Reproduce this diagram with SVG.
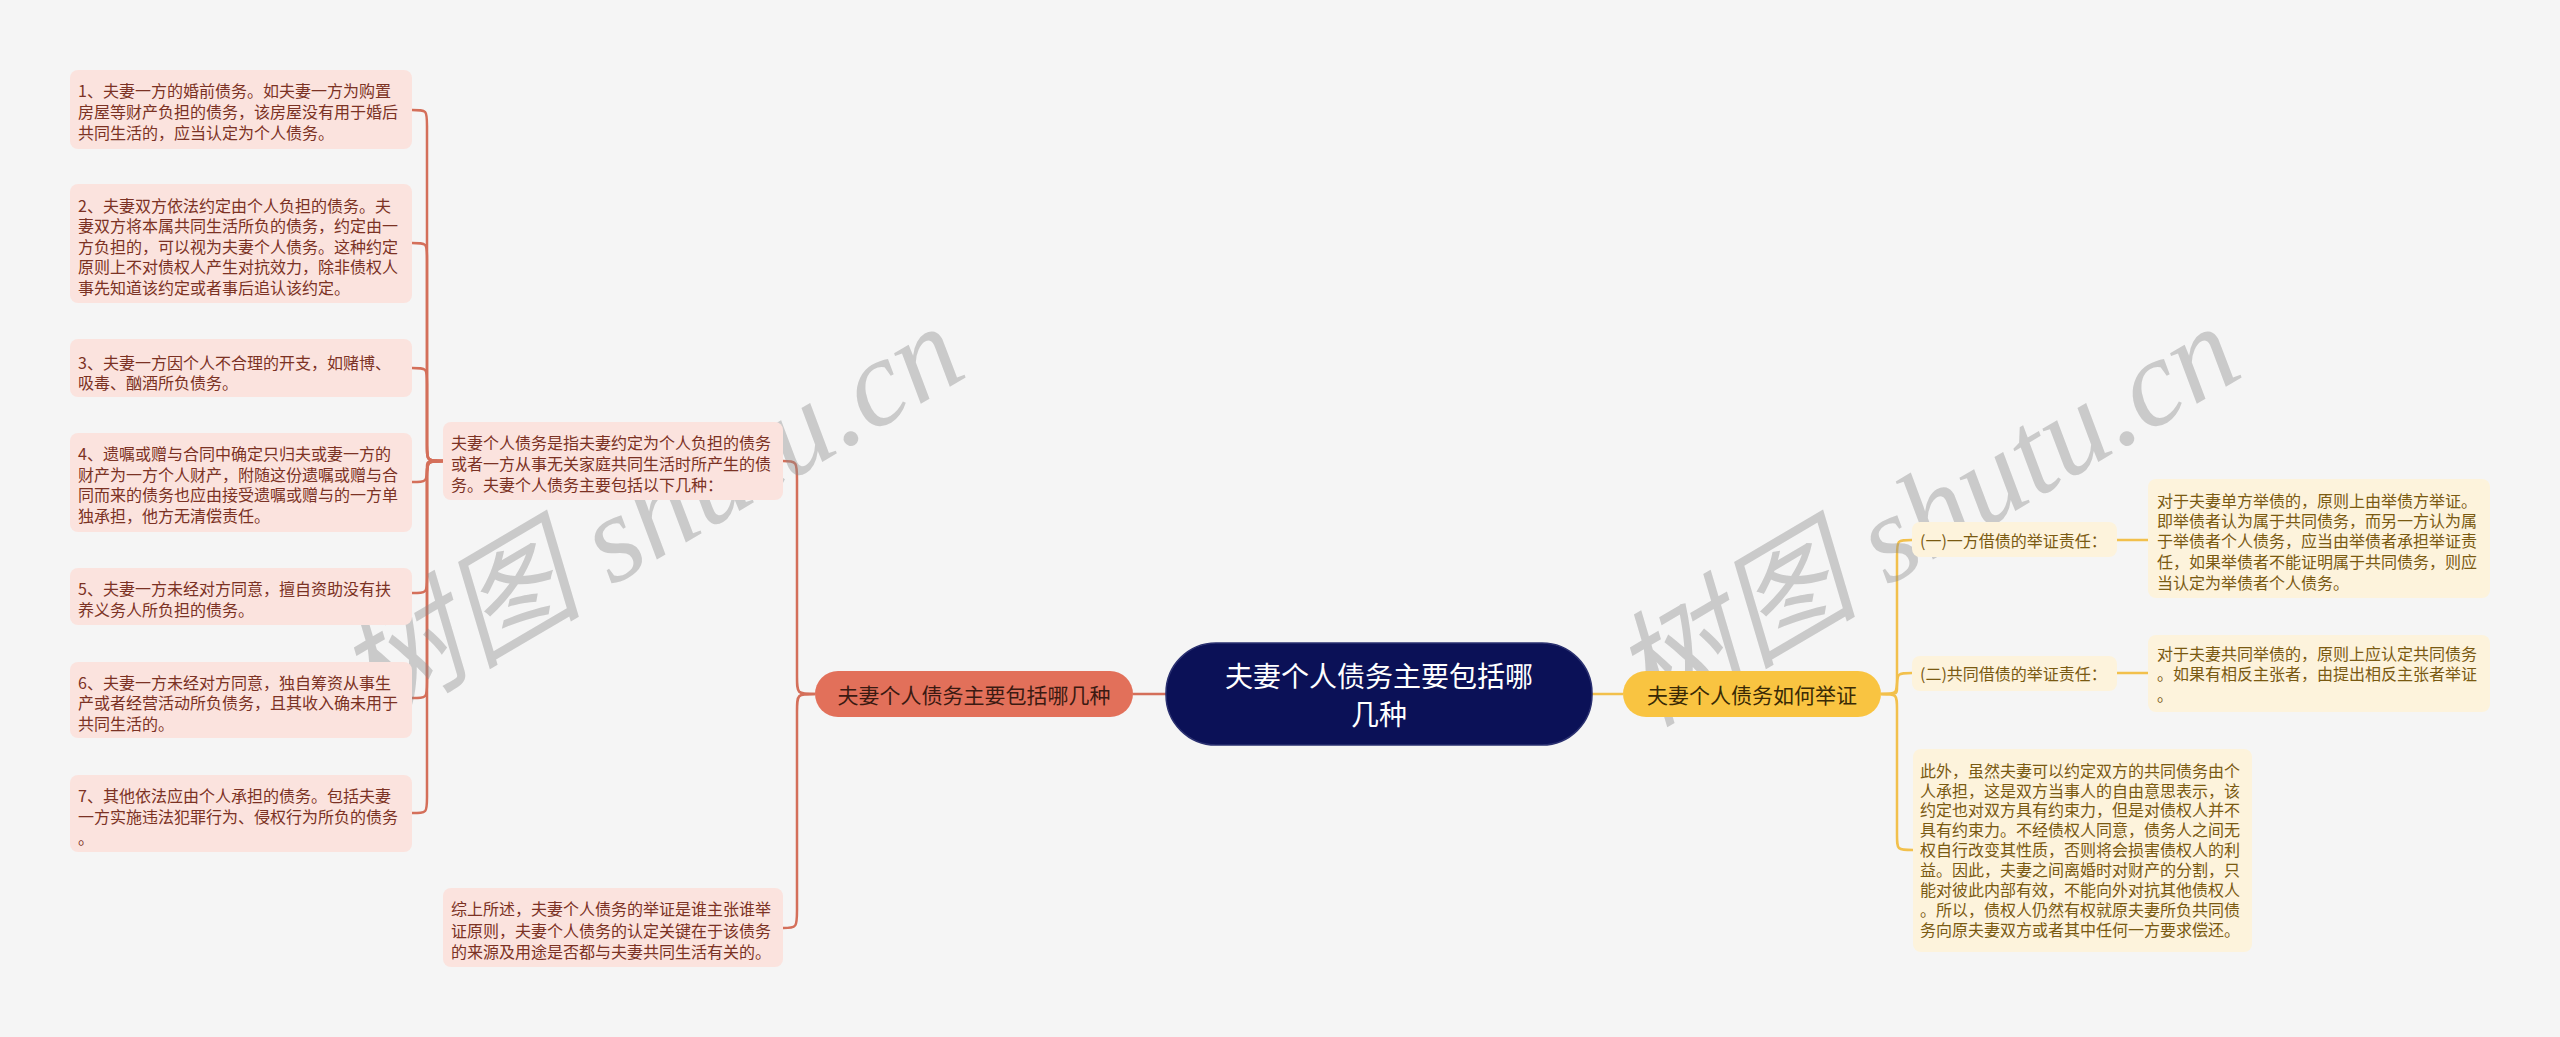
<svg xmlns="http://www.w3.org/2000/svg" width="2560" height="1037" viewBox="0 0 2560 1037">
<style>
text{font-family:"Noto Sans CJK SC","Noto Sans",sans-serif;dominant-baseline:central}
.lf{fill:#fbe3de}
.lt{fill:#7b3224;font-size:16px}
.rf{fill:#fdf3dc}
.rt{fill:#7a5a12;font-size:16px}
.cl{fill:none;stroke:#d46f5a;stroke-width:2.5}
.cr{fill:none;stroke:#f2c04c;stroke-width:2.5}
.wm{font-family:"Liberation Serif","Noto Sans CJK SC",serif;font-size:124px;fill:#8a8a8a;fill-opacity:0.4;font-style:italic}
</style>
<rect width="2560" height="1037" fill="#f5f5f5"/>
<g id="connectors">
<path class="cl" d="M1133,694 L1166,694" stroke-width="3"/>
<path class="cr" d="M1592,694 L1623,694" stroke-width="3"/>
<path class="cl" d="M815,694 C797,694 797,694 797,676 L797,480 C797,462 797,461 783,461"/>
<path class="cl" d="M815,694 C797,694 797,694 797,712 L797,910 C797,927 797,928 783,928"/>
<path class="cl" d="M443,461 C427,461 427,461 427,445 L427,126 C427,110 427,110 412,110"/>
<path class="cl" d="M443,461 C427,461 427,461 427,445 L427,259 C427,243 427,243 412,243"/>
<path class="cl" d="M443,461 C427,461 427,461 427,445 L427,384 C427,368 427,368 412,368"/>
<path class="cl" d="M443,461 C427,461 427,461 427,466 C427,482 427,482 412,482"/>
<path class="cl" d="M443,461 C427,461 427,461 427,477 L427,577 C427,593 427,593 412,593"/>
<path class="cl" d="M443,461 C427,461 427,461 427,477 L427,682 C427,698 427,698 412,698"/>
<path class="cl" d="M443,461 C427,461 427,461 427,477 L427,797 C427,813 427,813 412,813"/>
<path class="cr" d="M1881,694 C1897,694 1897,694 1897,678 L1897,556 C1897,540 1897,540 1912,540"/>
<path class="cr" d="M1881,694 C1897,694 1897,694 1897,689 C1897,673 1897,673 1912,673"/>
<path class="cr" d="M1881,694 C1897,694 1897,694 1897,710 L1897,834 C1897,850 1897,850 1913,850"/>
<path class="cr" d="M2117,540 L2148,540"/>
<path class="cr" d="M2117,673 L2148,673"/>
</g>
<g id="watermarks">
<text class="wm" transform="translate(350,692) rotate(-30.5)">树图 shutu.cn</text>
<text class="wm" transform="translate(1626,692) rotate(-30.5)">树图 shutu.cn</text>
</g>
<g id="center">
<rect x="1166" y="643" width="426" height="102" rx="50" fill="#0b1157" stroke="#2a3070" stroke-width="1.5"/>
<text x="1379" y="675" text-anchor="middle" fill="#ffffff" font-size="28">夫妻个人债务主要包括哪</text>
<text x="1379" y="713" text-anchor="middle" fill="#ffffff" font-size="28">几种</text>
</g>
<g id="branch-left">
<rect x="815" y="671" width="318" height="46" rx="23" fill="#e2705a"/>
<text x="974" y="694" text-anchor="middle" fill="#3b1a12" font-size="21">夫妻个人债务主要包括哪几种</text>
</g>
<g id="branch-right">
<rect x="1623" y="671" width="258" height="46" rx="23" fill="#f9c441"/>
<text x="1752" y="694" text-anchor="middle" fill="#3a2a05" font-size="21">夫妻个人债务如何举证</text>
</g>
<g id="node-a">
<rect class="lf" x="443" y="422" width="340" height="78" rx="8"/>
<text class="lt" x="451" y="442">夫妻个人债务是指夫妻约定为个人负担的债务</text>
<text class="lt" x="451" y="463">或者一方从事无关家庭共同生活时所产生的债</text>
<text class="lt" x="451" y="484">务。夫妻个人债务主要包括以下几种：</text>
</g>
<g id="node-b">
<rect class="lf" x="443" y="888" width="340" height="79" rx="8"/>
<text class="lt" x="451" y="908">综上所述，夫妻个人债务的举证是谁主张谁举</text>
<text class="lt" x="451" y="930">证原则，夫妻个人债务的认定关键在于该债务</text>
<text class="lt" x="451" y="951">的来源及用途是否都与夫妻共同生活有关的。</text>
</g>
<g id="item-1">
<rect class="lf" x="70" y="70" width="342" height="79" rx="8"/>
<text class="lt" x="78" y="90">1、夫妻一方的婚前债务。如夫妻一方为购置</text>
<text class="lt" x="78" y="111">房屋等财产负担的债务，该房屋没有用于婚后</text>
<text class="lt" x="78" y="132">共同生活的，应当认定为个人债务。</text>
</g>
<g id="item-2">
<rect class="lf" x="70" y="184" width="342" height="119" rx="8"/>
<text class="lt" x="78" y="205">2、夫妻双方依法约定由个人负担的债务。夫</text>
<text class="lt" x="78" y="225">妻双方将本属共同生活所负的债务，约定由一</text>
<text class="lt" x="78" y="246">方负担的，可以视为夫妻个人债务。这种约定</text>
<text class="lt" x="78" y="266">原则上不对债权人产生对抗效力，除非债权人</text>
<text class="lt" x="78" y="287">事先知道该约定或者事后追认该约定。</text>
</g>
<g id="item-3">
<rect class="lf" x="70" y="339" width="342" height="58" rx="8"/>
<text class="lt" x="78" y="362">3、夫妻一方因个人不合理的开支，如赌博、</text>
<text class="lt" x="78" y="382">吸毒、酗酒所负债务。</text>
</g>
<g id="item-4">
<rect class="lf" x="70" y="433" width="342" height="99" rx="8"/>
<text class="lt" x="78" y="453">4、遗嘱或赠与合同中确定只归夫或妻一方的</text>
<text class="lt" x="78" y="474">财产为一方个人财产，附随这份遗嘱或赠与合</text>
<text class="lt" x="78" y="494">同而来的债务也应由接受遗嘱或赠与的一方单</text>
<text class="lt" x="78" y="515">独承担，他方无清偿责任。</text>
</g>
<g id="item-5">
<rect class="lf" x="70" y="568" width="342" height="57" rx="8"/>
<text class="lt" x="78" y="588">5、夫妻一方未经对方同意，擅自资助没有扶</text>
<text class="lt" x="78" y="609">养义务人所负担的债务。</text>
</g>
<g id="item-6">
<rect class="lf" x="70" y="662" width="342" height="76" rx="8"/>
<text class="lt" x="78" y="682">6、夫妻一方未经对方同意，独自筹资从事生</text>
<text class="lt" x="78" y="702">产或者经营活动所负债务，且其收入确未用于</text>
<text class="lt" x="78" y="723">共同生活的。</text>
</g>
<g id="item-7">
<rect class="lf" x="70" y="775" width="342" height="77" rx="8"/>
<text class="lt" x="78" y="795">7、其他依法应由个人承担的债务。包括夫妻</text>
<text class="lt" x="78" y="816">一方实施违法犯罪行为、侵权行为所负的债务</text>
<text class="lt" x="78" y="837">。</text>
</g>
<g id="node-c">
<rect class="rf" x="1912" y="522" width="205" height="35" rx="8"/>
<text class="rt" x="1920" y="540">(一)一方借债的举证责任：</text>
</g>
<g id="node-e">
<rect class="rf" x="1912" y="656" width="205" height="35" rx="8"/>
<text class="rt" x="1920" y="673">(二)共同借债的举证责任：</text>
</g>
<g id="node-d">
<rect class="rf" x="2148" y="479" width="342" height="119" rx="8"/>
<text class="rt" x="2157" y="500">对于夫妻单方举债的，原则上由举债方举证。</text>
<text class="rt" x="2157" y="520">即举债者认为属于共同债务，而另一方认为属</text>
<text class="rt" x="2157" y="540">于举债者个人债务，应当由举债者承担举证责</text>
<text class="rt" x="2157" y="561">任，如果举债者不能证明属于共同债务，则应</text>
<text class="rt" x="2157" y="582">当认定为举债者个人债务。</text>
</g>
<g id="node-f">
<rect class="rf" x="2148" y="635" width="342" height="77" rx="8"/>
<text class="rt" x="2157" y="653">对于夫妻共同举债的，原则上应认定共同债务</text>
<text class="rt" x="2157" y="673">。如果有相反主张者，由提出相反主张者举证</text>
<text class="rt" x="2157" y="694">。</text>
</g>
<g id="node-g">
<rect class="rf" x="1913" y="749" width="339" height="203" rx="8"/>
<text class="rt" x="1920" y="770">此外，虽然夫妻可以约定双方的共同债务由个</text>
<text class="rt" x="1920" y="790">人承担，这是双方当事人的自由意思表示，该</text>
<text class="rt" x="1920" y="809">约定也对双方具有约束力，但是对债权人并不</text>
<text class="rt" x="1920" y="829">具有约束力。不经债权人同意，债务人之间无</text>
<text class="rt" x="1920" y="849">权自行改变其性质，否则将会损害债权人的利</text>
<text class="rt" x="1920" y="869">益。因此，夫妻之间离婚时对财产的分割，只</text>
<text class="rt" x="1920" y="889">能对彼此内部有效，不能向外对抗其他债权人</text>
<text class="rt" x="1920" y="909">。所以，债权人仍然有权就原夫妻所负共同债</text>
<text class="rt" x="1920" y="929">务向原夫妻双方或者其中任何一方要求偿还。</text>
</g>
</svg>
